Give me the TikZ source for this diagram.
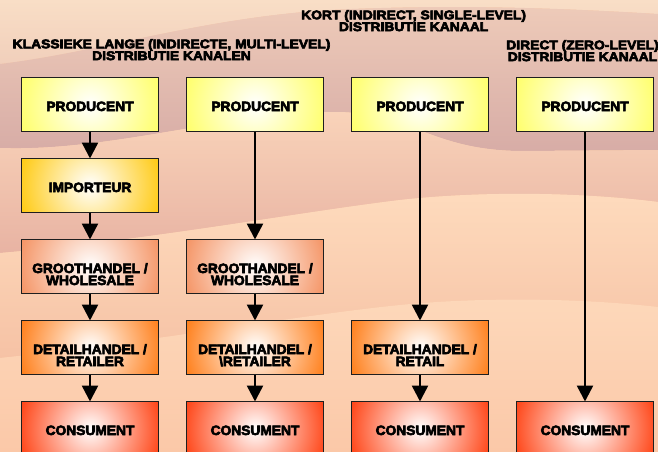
\documentclass[tikz,border=0pt]{standalone}
\usepackage{fontspec}
\usetikzlibrary{arrows.meta}

% label fonts: heavy, slightly widened sans
\newfontfamily\lblfont{Liberation Sans}[FakeStretch=1.02,BoldFeatures={FakeBold=4.5}]
\newfontfamily\ttlfont{Liberation Sans}[FakeStretch=1.10,BoldFeatures={FakeBold=5}]

% two centred lines, baseline on the first line
\newcommand\stacked[2]{\vtop{\halign{\hfil##\hfil\cr#1\cr#2\cr}}}

% background bands
\definecolor{bgbase}{HTML}{FBCAA9}
\definecolor{bandAt}{HTML}{F9DEC6}
\definecolor{bandAb}{HTML}{F1CFBB}
\definecolor{bandBt}{HTML}{EECBB9}
\definecolor{bandBb}{HTML}{D7ACA6}
\definecolor{bandCt}{HTML}{F9D3B9}
\definecolor{bandCb}{HTML}{E8B3A3}
\definecolor{bandDt}{HTML}{FEDBBD}
\definecolor{bandDb}{HTML}{F6C2A5}
\definecolor{bandEt}{HTML}{FDD8BA}
\definecolor{bandEb}{HTML}{FBC8A8}
% box colours
\definecolor{prodc}{HTML}{FFFF66}
\definecolor{impc}{HTML}{FFC80A}
\definecolor{ghc}{HTML}{F4905F}
\definecolor{dhc}{HTML}{FF7A12}
\definecolor{consc}{HTML}{FF3D0D}

\tikzset{
  box/.style={draw=black!88, line width=1.5pt, minimum width=137pt,
    minimum height=54pt, inner sep=0pt, outer sep=0pt,
    path picture={\shade[inner color=white, outer color=#1]
      (path picture bounding box.center) circle (76pt);}},
  lbl/.style={anchor=base, inner sep=0pt,
    font=\lblfont\bfseries\fontsize{13.5}{12}\selectfont},
  ttl/.style={anchor=base, inner sep=0pt,
    font=\ttlfont\bfseries\fontsize{12.6}{11.8}\selectfont},
  arr/.style={line width=2.5pt, -{Triangle[width=16pt,length=16pt]}},
}

\begin{document}
\begin{tikzpicture}[x=1pt,y=-1pt]
\useasboundingbox (0,0) rectangle (658,452);
\clip (0,0) rectangle (658,452);

% ---- wavy background ----
\fill[bgbase] (0,0) rectangle (658,452);
\shade[top color=bandAt, bottom color=bandAb]
  (0,0) -- (658,0) -- (658,14)
  .. controls (560,8) and (450,4) .. (330,10)
  .. controls (200,18) and (100,52) .. (0,64) -- cycle;
\shade[top color=bandBt, bottom color=bandBb]
  (0,64) .. controls (100,52) and (200,18) .. (330,10)
  .. controls (450,4) and (560,8) .. (658,14)
  -- (658,150) -- (520,151)
  .. controls (430,150) and (410,112) .. (335,112)
  .. controls (230,112) and (110,152) .. (0,148) -- cycle;
\shade[top color=bandCt, bottom color=bandCb]
  (0,148) .. controls (110,152) and (230,112) .. (335,112)
  .. controls (410,112) and (430,150) .. (520,151) -- (658,150)
  -- (658,202)
  .. controls (580,192) and (480,191) .. (400,200)
  .. controls (300,212) and (150,240) .. (0,253) -- cycle;
\shade[top color=bandDt, bottom color=bandDb]
  (0,253) .. controls (150,240) and (300,212) .. (400,200)
  .. controls (480,191) and (580,192) .. (658,202)
  -- (658,307)
  .. controls (580,298) and (480,297) .. (400,305)
  .. controls (300,315) and (150,342) .. (0,358) -- cycle;
\shade[top color=bandEt, bottom color=bandEb]
  (0,358) .. controls (150,342) and (300,315) .. (400,305)
  .. controls (480,297) and (580,298) .. (658,307)
  -- (658,452) -- (0,452) -- cycle;

% ---- headings ----
\node[ttl] (t1) at (171.5,48.3)
  {\stacked{KLASSIEKE LANGE (INDIRECTE, MULTI-LEVEL)}{DISTRIBUTIE KANALEN}};
\node[ttl] (t2) at (413.6,19.3)
  {\stacked{KORT (INDIRECT, SINGLE-LEVEL)}{DISTRIBUTIE KANAAL}};
\node[ttl] (t3) at (582.5,49.3)
  {\stacked{DIRECT (ZERO-LEVEL)}{DISTRIBUTIE KANAAL}};

% ---- boxes ----
\node[box=prodc] (p1) at (90,104.5) {};
\node[box=prodc] (p2) at (255,104.5) {};
\node[box=prodc] (p3) at (420,104.5) {};
\node[box=prodc] (p4) at (585,104.5) {};
\node[box=impc]  (i1) at (90,185.5) {};
\node[box=ghc]   (g1) at (90,266.5) {};
\node[box=ghc]   (g2) at (255,266.5) {};
\node[box=dhc]   (d1) at (90,347.5) {};
\node[box=dhc]   (d2) at (255,347.5) {};
\node[box=dhc]   (d3) at (420,347.5) {};
\node[box=consc] (c1) at (90,428.5) {};
\node[box=consc] (c2) at (255,428.5) {};
\node[box=consc] (c3) at (420,428.5) {};
\node[box=consc] (c4) at (585,428.5) {};

% ---- box labels ----
\foreach \b in {p1,p2,p3,p4}
  \node[lbl] (\b t) at ([yshift=-33.5pt]\b.north) {PRODUCENT};
\node[lbl] (i1t) at ([yshift=-33.5pt]i1.north) {IMPORTEUR};
\node[lbl] (g1t) at ([yshift=-33.5pt]g1.north) {\stacked{GROOTHANDEL /}{WHOLESALE}};
\node[lbl] (g2t) at ([yshift=-33.5pt]g2.north) {\stacked{GROOTHANDEL /}{WHOLESALE}};
\node[lbl] (d1t) at ([yshift=-33.5pt]d1.north) {\stacked{DETAILHANDEL /}{RETAILER}};
\node[lbl] (d2t) at ([yshift=-33.5pt]d2.north) {\stacked{DETAILHANDEL /}{\textbackslash RETAILER}};
\node[lbl] (d3t) at ([yshift=-33.5pt]d3.north) {\stacked{DETAILHANDEL /}{RETAIL}};
\foreach \b in {c1,c2,c3,c4}
  \node[lbl] (\b t) at ([yshift=-33.5pt]\b.north) {CONSUMENT};

% ---- flows ----
\draw[arr] (p1) -- (i1);
\draw[arr] (i1) -- (g1);
\draw[arr] (g1) -- (d1);
\draw[arr] (d1) -- (c1);
\draw[arr] (p2) -- (g2);
\draw[arr] (g2) -- (d2);
\draw[arr] (d2) -- (c2);
\draw[arr] (p3) -- (d3);
\draw[arr] (d3) -- (c3);
\draw[arr] (p4) -- (c4);
\end{tikzpicture}
\end{document}
